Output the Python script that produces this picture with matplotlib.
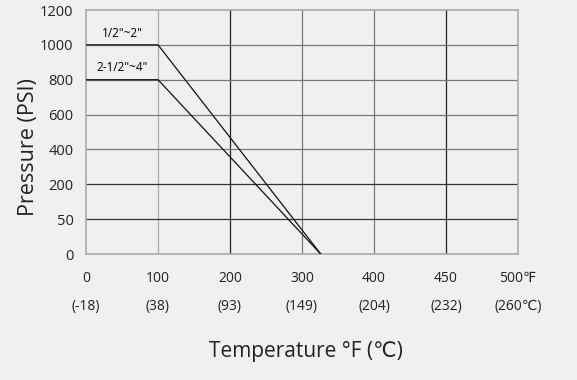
import numpy as np
import matplotlib
matplotlib.use('Agg')
import matplotlib.pyplot as plt

plt.rcParams['font.family'] = ['Open Sans', 'DejaVu Sans']

# ticks (equally spaced on the chart, not linear)
f_ticks = [0, 100, 200, 300, 400, 450, 500]
f_labels = ['0', '100', '200', '300', '400', '450', '500\u2109']
c_labels = ['(-18)', '(38)', '(93)', '(149)', '(204)', '(232)', '(260\u2103)']
p_ticks = [0, 50, 200, 400, 600, 800, 1000, 1200]

# rating curves
temp_small = [0, 100, 326]
pres_small = [1000, 1000, 0]
temp_large = [0, 100, 326]
pres_large = [800, 800, 0]

xi = np.arange(len(f_ticks))
yi = np.arange(len(p_ticks))
def fx(v): return np.interp(v, f_ticks, xi)
def fxi(v): return np.interp(v, xi, f_ticks)
def fy(v): return np.interp(v, p_ticks, yi)
def fyi(v): return np.interp(v, yi, p_ticks)

bg = '#f0f0f0'
fig = plt.figure(figsize=(5.77, 3.80), dpi=100, facecolor=bg)
ax = fig.add_axes([86/577, 1-254/380, 432/577, 244/380], facecolor=bg)
ax.set_xscale('function', functions=(fx, fxi))
ax.set_yscale('function', functions=(fy, fyi))
ax.set_xlim(0, 500)
ax.set_ylim(0, 1200)

for t in f_ticks[1:-1]:
    c = '#222222' if t in (200, 450) else '#777777'
    if t == 100:
        c = '#aaaaaa'
    ax.axvline(t, color=c, lw=0.9, zorder=1)
for p in p_ticks[1:-1]:
    c = '#333333' if p in (50, 200) else '#777777'
    ax.axhline(p, color=c, lw=0.9, zorder=1)
for s in ax.spines.values():
    s.set_color('#aaaaaa')
    s.set_linewidth(1.2)

ax.plot(temp_small, pres_small, color='#111111', lw=0.9, zorder=3)
ax.plot(temp_large, pres_large, color='#111111', lw=0.9, zorder=3)
ax.text(50, 1030, '1/2"~2"', ha='center', va='bottom', fontsize=8.5)
ax.text(50, 830, '2-1/2"~4"', ha='center', va='bottom', fontsize=8.5)

ax.set_xticks(f_ticks)
ax.set_xticklabels(f_labels, fontsize=10)
ax.set_yticks(p_ticks)
ax.set_yticklabels([str(p) for p in p_ticks], fontsize=10.5)
ax.tick_params(axis='x', length=0, pad=12, colors='#222222')
ax.tick_params(axis='y', length=0, pad=9, colors='#222222')
ax.minorticks_off()

tr = ax.get_xaxis_transform()
for t, lab in zip(f_ticks, c_labels):
    ax.text(t, -0.215, lab, transform=tr, ha='center', va='center', fontsize=10, color='#222222')

ax.set_ylabel('Pressure (PSI)', fontsize=15.5, color='#222222')
ax.yaxis.set_label_coords(-0.108, 0.44)
fig.text(0.530, 0.075, 'Temperature \u00b0F (\u2103)', ha='center', va='center', fontsize=15, color='#222222')

fig.savefig('out.png', dpi=100, facecolor=bg)
